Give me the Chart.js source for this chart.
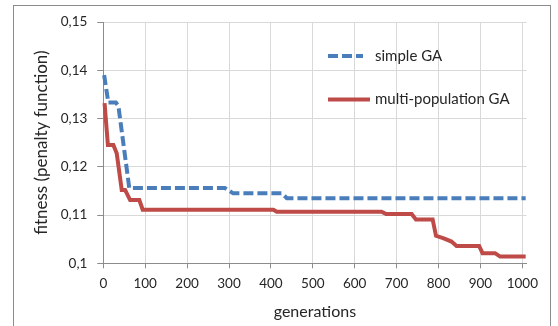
<!DOCTYPE html>
<html>
<head>
<meta charset="utf-8">
<script src="https://cdn.jsdelivr.net/npm/chart.js@4.4.1/dist/chart.umd.min.js"></script>
<style>
  html, body { margin: 0; padding: 0; background: #ffffff; }
  #wrap { position: relative; width: 558px; height: 326px; }
</style>
</head>
<body>
<div id="wrap"><canvas id="c" width="558" height="326"></canvas></div>
<script>
// ---- data ----
const seriesNames = ["simple GA", "multi-population GA"];
const genSimple = [2, 12, 30, 36, 62, 290, 310, 426, 438, 1008];
const fitSimple = [0.139, 0.1333, 0.1333, 0.1326, 0.1156, 0.1156, 0.1145, 0.1145, 0.1135, 0.1135];
const genMulti = [3, 11, 24, 32, 44, 52, 64, 86, 94, 406, 414, 664, 675, 736, 746, 786, 794, 811, 831, 843, 897, 905, 935, 947, 1008];
const fitMulti = [0.1332, 0.1245, 0.1245, 0.1228, 0.1152, 0.1152, 0.1131, 0.1131, 0.1111, 0.1111, 0.1107, 0.1107, 0.1102, 0.1102, 0.1091, 0.1091, 0.1057, 0.1052, 0.1045, 0.1036, 0.1036, 0.1021, 0.1021, 0.1014, 0.1014];
const xTicks = [0, 100, 200, 300, 400, 500, 600, 700, 800, 900, 1000];
const yTicks = [0.10, 0.11, 0.12, 0.13, 0.14, 0.15];
const xTitle = "generations";
const yTitle = "fitness (penalty function)";

const toPoints = (xs, ys) => xs.map((x, i) => ({ x: x, y: ys[i] }));
const fmt = v => String(Math.round(v * 100) / 100).replace('.', ',');

const FONT = "Lato";
const TXT = "#262626";

const frame = {
  id: 'frame',
  beforeDraw(chart) {
    const ctx = chart.ctx;
    ctx.save();
    ctx.fillStyle = '#ffffff';
    ctx.fillRect(0, 0, chart.width, chart.height);
    ctx.strokeStyle = '#8c8c8c';
    ctx.lineWidth = 1;
    ctx.strokeRect(13.5, 5.5, 537, 340);
    ctx.restore();
  }
};

const legendInside = {
  id: 'legendInside',
  afterDraw(chart) {
    const ctx = chart.ctx;
    const items = [
      { x1: 328, x2: 363, y: 56 },
      { x1: 328, x2: 370, y: 99.5 }
    ];
    ctx.save();
    chart.data.datasets.forEach((ds, i) => {
      const it = items[i];
      ctx.strokeStyle = ds.borderColor;
      ctx.lineWidth = ds.borderWidth;
      ctx.setLineDash(ds.borderDash || []);
      ctx.lineCap = 'butt';
      ctx.beginPath();
      ctx.moveTo(it.x1, it.y);
      ctx.lineTo(it.x2, it.y);
      ctx.stroke();
      ctx.setLineDash([]);
      ctx.fillStyle = TXT;
      ctx.font = "15px " + FONT;
      ctx.textAlign = 'left';
      ctx.textBaseline = 'middle';
      ctx.fillText(ds.label, 375, it.y);
    });
    ctx.restore();
  }
};

new Chart(document.getElementById('c'), {
  type: 'line',
  data: {
    datasets: [
      {
        label: seriesNames[0],
        data: toPoints(genSimple, fitSimple),
        borderColor: '#4a7ebb',
        borderWidth: 4,
        borderDash: [10, 4],
        pointRadius: 0,
        fill: false,
        tension: 0,
        clip: 6
      },
      {
        label: seriesNames[1],
        data: toPoints(genMulti, fitMulti),
        borderColor: '#be4b48',
        borderWidth: 4,
        pointRadius: 0,
        fill: false,
        tension: 0,
        clip: 6
      }
    ]
  },
  options: {
    responsive: false,
    animation: false,
    devicePixelRatio: 1,
    layout: { padding: { left: 0, top: 22, right: 31.5, bottom: 0 } },
    plugins: { legend: { display: false }, tooltip: { enabled: false } },
    scales: {
      x: {
        type: 'linear',
        min: 0,
        max: 1010,
        afterBuildTicks(scale) { scale.ticks = xTicks.map(v => ({ value: v })); },
        afterFit(scale) { scale.height = 62.7; },
        ticks: {
          font: { family: FONT, size: 13.5 },
          color: TXT,
          padding: 7,
          maxRotation: 0,
          callback: v => String(v)
        },
        grid: {
          color: '#d9d9d9',
          lineWidth: 1,
          borderDash: [4, 3],
          tickColor: '#8c8c8c',
          tickLength: 5,
          tickBorderDash: [],
          drawTicks: true
        },
        border: { display: true, color: '#8c8c8c', width: 1 },
        title: {
          display: true,
          text: xTitle,
          font: { family: FONT, size: 16 },
          color: TXT,
          padding: { top: 0, bottom: 4.5 }
        }
      },
      y: {
        type: 'linear',
        min: 0.10,
        max: 0.15,
        afterBuildTicks(scale) { scale.ticks = yTicks.map(v => ({ value: v })); },
        afterFit(scale) { scale.width = 103.3; },
        ticks: {
          font: { family: FONT, size: 13.5 },
          color: TXT,
          padding: 10,
          callback: v => fmt(v)
        },
        grid: {
          color: '#d9d9d9',
          lineWidth: 1,
          borderDash: [4, 3],
          tickColor: '#8c8c8c',
          tickLength: 6,
          tickBorderDash: [],
          drawTicks: true
        },
        border: { display: true, color: '#8c8c8c', width: 1 },
        title: {
          display: true,
          text: yTitle,
          font: { family: FONT, size: 17 },
          color: TXT,
          padding: { top: 31, bottom: 0 }
        }
      }
    }
  },
  plugins: [frame, legendInside]
});
</script>
</body>
</html>
